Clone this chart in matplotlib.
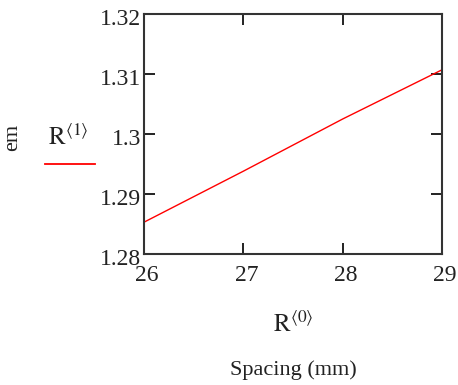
import matplotlib
matplotlib.use("Agg")
import matplotlib.pyplot as plt
from matplotlib.lines import Line2D
from matplotlib.transforms import ScaledTranslation

plt.rcParams['font.family'] = ['Liberation Serif', 'DejaVu Serif']
plt.rcParams['mathtext.fontset'] = 'stix'

# data
spacing = [26, 27, 28, 29]
em = [1.2853, 1.2938, 1.3025, 1.3107]
xticks = [26, 27, 28, 29]
yticks = [1.28, 1.29, 1.30, 1.31, 1.32]
ytick_labels = ['1.28', '1.29', '1.3', '1.31', '1.32']

W, H = 458, 385
fig = plt.figure(figsize=(W / 100, H / 100), dpi=100)
ax = fig.add_axes([144 / W, 1 - 254 / H, (442 - 144) / W, (254 - 14) / H])

ax.plot(spacing, em, color='red', lw=1.0)
ax.set_xlim(26, 29)
ax.set_ylim(1.28, 1.32)
ax.set_xticks(xticks)
ax.set_yticks(yticks)
ax.set_yticklabels(ytick_labels)

for s in ax.spines.values():
    s.set_linewidth(1.5)
    s.set_color('#333333')
ax.tick_params(direction='in', length=8, width=1.4, color='#222222',
               top=True, right=True, labelsize=17, labelcolor='#222222')
ax.tick_params(axis='x', pad=8)
ax.tick_params(axis='y', pad=2)

# Mathcad nudges its tick labels a little right / down
for lab in ax.get_xticklabels():
    lab.set_transform(lab.get_transform() + ScaledTranslation(0.03, 0, fig.dpi_scale_trans))
for lab in ax.get_yticklabels():
    lab.set_transform(lab.get_transform() + ScaledTranslation(0, -0.03, fig.dpi_scale_trans))

# axis titles in Mathcad style
fig.text(293 / W, 1 - 324 / H, r'$\mathrm{R}^{\langle 0\rangle}$', fontsize=18,
         ha='center', va='center', color='#222222')
fig.text(293 / W, 1 - 370 / H, 'Spacing (mm)', fontsize=16,
         ha='center', va='center', color='#222222')
fig.text(13 / W, 1 - 137 / H, 'em', fontsize=16, rotation=90,
         ha='center', va='center', color='#222222')
fig.text(68 / W, 1 - 137 / H, r'$\mathrm{R}^{\langle 1\rangle}$', fontsize=18,
         ha='center', va='center', color='#222222')
fig.add_artist(Line2D([45 / W, 95 / W], [1 - 164 / H, 1 - 164 / H],
                      color='red', lw=1.3, transform=fig.transFigure))

fig.savefig('out.png', dpi=100)
